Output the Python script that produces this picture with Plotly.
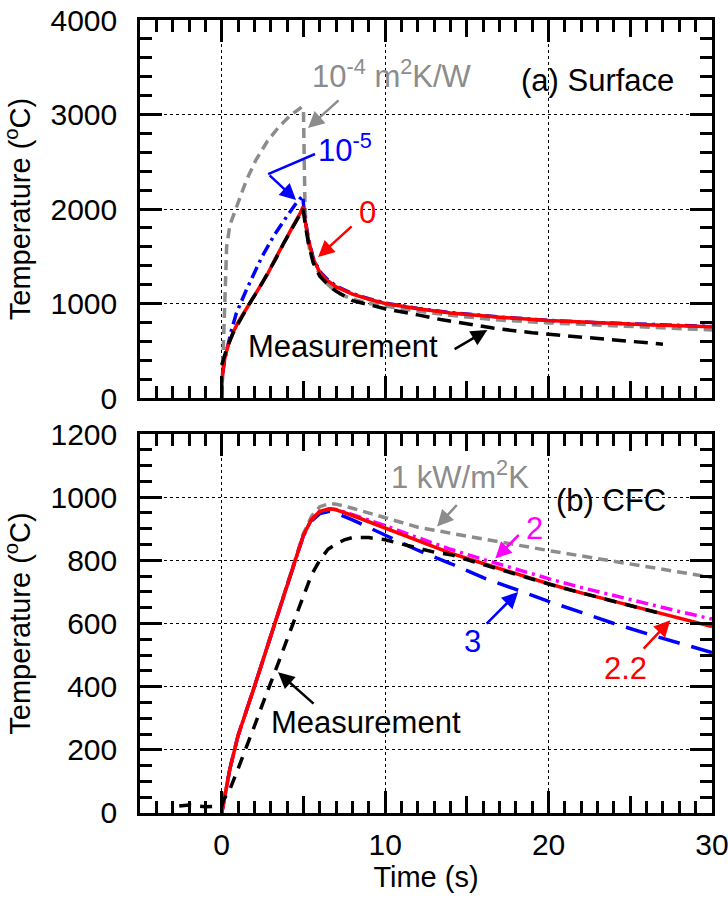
import plotly.graph_objects as go

# ---------------- data: (a) Surface ----------------
t_red_a = [0, 0.02, 0.1, 0.2, 0.4, 0.7, 1.0, 1.3, 1.7, 2.3, 2.8, 3.3, 3.8, 4.3, 4.8, 4.98, 5.1, 5.3, 5.6, 6.0, 6.5, 7.0, 8, 9, 10, 12, 14, 17, 20, 23, 26, 30]
T_red_a = [0, 170, 330, 430, 565, 695, 800, 885, 1000, 1165, 1310, 1480, 1650, 1800, 1955, 2025, 1880, 1680, 1470, 1330, 1240, 1175, 1100, 1045, 1000, 945, 900, 855, 820, 795, 775, 755]

t_meas_a = [0, 0.3, 0.7, 1.2, 1.7, 2.3, 2.8, 3.3, 3.8, 4.3, 4.8, 4.98, 5.1, 5.3, 5.6, 6.0, 6.5, 7.0, 8, 10, 12, 13.4, 15, 16.6, 19, 21, 23, 25, 27]
T_meas_a = [350, 520, 690, 850, 1000, 1165, 1310, 1470, 1640, 1790, 1940, 2000, 1850, 1640, 1430, 1290, 1200, 1130, 1030, 945, 880, 830, 785, 740, 690, 660, 630, 600, 570]

t_gray_a = [0, 0.1, 0.2, 0.3, 0.5, 0.9, 1.5, 2.1, 2.8, 3.5, 4.2, 4.9, 5.0, 5.05, 5.1, 5.2, 5.4, 5.7, 6.2, 7, 8, 9, 10, 12, 14, 17, 20, 24, 27, 30]
T_gray_a = [0, 500, 1100, 1600, 1830, 2020, 2300, 2520, 2720, 2870, 2990, 3080, 3060, 2500, 2000, 1750, 1550, 1400, 1250, 1120, 1045, 1000, 972, 920, 875, 825, 795, 762, 740, 720]

t_blue_a = [0, 0.05, 0.2, 0.6, 0.9, 1.5, 2.45, 3.2, 3.98, 4.59, 4.95, 5.1, 5.3, 5.6, 6.0, 6.5, 7, 8, 9, 10, 12, 14, 17, 20, 23, 26, 30]
T_blue_a = [0, 250, 420, 720, 900, 1140, 1490, 1720, 1920, 2070, 2140, 1900, 1690, 1480, 1340, 1250, 1185, 1105, 1050, 1005, 948, 903, 857, 822, 797, 777, 757]

# ---------------- data: (b) CFC ----------------
t_b = [0, 0.5, 1, 1.5, 2, 3, 4, 4.6, 5, 5.5, 6, 6.6, 7, 8, 10, 12, 14, 16, 18, 20, 22, 24, 26, 28, 30]
T_red_b = [0, 140, 245, 320, 400, 560, 720, 820, 880, 930, 955, 963, 960, 942, 902, 862, 823, 790, 757, 726, 697, 670, 643, 617, 590]
T_mag_b = [0, 140, 245, 320, 400, 560, 720, 820, 880, 930, 955, 963, 961, 945, 910, 872, 835, 803, 772, 742, 714, 688, 662, 638, 614]
T_blue_b = [0, 140, 245, 320, 400, 560, 720, 820, 878, 925, 948, 955, 950, 928, 880, 832, 790, 745, 708, 670, 635, 600, 568, 538, 508]
T_gray_b = [0, 140, 245, 320, 400, 560, 720, 822, 885, 940, 970, 980, 978, 965, 935, 905, 886, 867, 849, 831, 814, 797, 780, 763, 746]

t_meas_b = [-2.6, -2.0, -1.0, -0.5, 0, 0.1, 0.5, 1, 1.5, 2, 2.5, 3, 3.5, 4, 4.5, 5, 5.5, 6, 6.5, 7, 7.5, 8, 9, 10, 11, 12, 13, 14, 16, 18, 20, 22, 24, 26, 27]
T_meas_b = [22, 25, 20, 20, 22, 40, 75, 140, 205, 275, 345, 410, 480, 550, 620, 690, 755, 800, 835, 852, 865, 872, 872, 865, 852, 838, 826, 818, 787, 755, 725, 697, 670, 645, 630]

x_ticks = [0, 10, 20, 30]
x_mid_ticks = [5, 15, 25]
y_ticks_a = [0, 1000, 2000, 3000, 4000]
y_ticks_b = [0, 200, 400, 600, 800, 1000, 1200]

RED = "#ff0000"
BLUE = "#0000ff"
GRAY = "#8c8c8c"
MAG = "#ff00ff"
BLACK = "#000000"
LW = 3.5

fig = go.Figure()

def add_line(x, y, color, dash, xa, ya, name):
    fig.add_trace(go.Scatter(x=x, y=y, mode="lines", name=name, xaxis=xa, yaxis=ya,
                             line=dict(color=color, width=LW, dash=dash), showlegend=False,
                             hoverinfo="skip"))

# panel (a)
add_line(t_gray_a, T_gray_a, GRAY, "10px,6px", "x", "y", "1e-4 m2K/W")
add_line(t_blue_a, T_blue_a, BLUE, "12px,5px,3px,5px", "x", "y", "1e-5")
add_line(t_red_a, T_red_a, RED, "solid", "x", "y", "0")
add_line(t_meas_a, T_meas_a, BLACK, "14px,8px", "x", "y", "Measurement")
# panel (b)
add_line(t_b, T_gray_b, GRAY, "10px,6px", "x2", "y2", "1 kW/m2K")
add_line(t_b, T_blue_b, BLUE, "22px,12px", "x2", "y2", "3")
add_line(t_b, T_mag_b, MAG, "12px,5px,3px,5px", "x2", "y2", "2")
add_line(t_b, T_red_b, RED, "solid", "x2", "y2", "2.2")
add_line(t_meas_b, T_meas_b, BLACK, "12px,9px", "x2", "y2", "Measurement")
# empty traces to host medium-tick overlay axes
fig.add_trace(go.Scatter(x=[], y=[], xaxis="x3", yaxis="y", showlegend=False))
fig.add_trace(go.Scatter(x=[], y=[], xaxis="x4", yaxis="y2", showlegend=False))

TICKFONT = dict(family="Liberation Sans, Arial", size=30, color="black")
TITLEFONT = dict(family="Liberation Sans, Arial", size=29, color="black")
ANNFONT = "Liberation Sans, Arial"

def xaxis_cfg(anchor, labels):
    return dict(anchor=anchor, range=[-5, 30], domain=[0, 1], tickmode="array", tickvals=x_ticks,
                automargin=False,
                ticks="inside", ticklen=22, tickwidth=2.5, tickcolor="black",
                showline=True, linecolor="black", linewidth=2.5, mirror="ticks",
                showgrid=True, gridcolor="black", gridwidth=1, griddash="dot",
                zeroline=False, showticklabels=labels, tickfont=TICKFONT,
                ticklabelstandoff=3, ticklabeloverflow="allow",
                minor=dict(dtick=1, ticks="inside", ticklen=12, tickwidth=2.5, tickcolor="black", showgrid=False))

def mid_cfg(over, anchor):
    return dict(overlaying=over, anchor=anchor, range=[-5, 30], domain=[0, 1], tickmode="array",
                automargin=False,
                tickvals=x_mid_ticks, ticks="inside", ticklen=17, tickwidth=2.5, tickcolor="black",
                showline=False, mirror="ticks", showgrid=False, zeroline=False, showticklabels=False)

def yaxis_cfg(anchor, rng, vals, minor, dom):
    return dict(anchor=anchor, range=rng, domain=dom, tickmode="array", tickvals=vals,
                automargin=False,
                ticks="inside", ticklen=22, tickwidth=2.5, tickcolor="black",
                showline=True, linecolor="black", linewidth=2.5, mirror="ticks",
                showgrid=True, gridcolor="black", gridwidth=1, griddash="dot",
                zeroline=False, tickfont=TICKFONT, ticklabelstandoff=14, ticklabeloverflow="allow",
                title=dict(text="Temperature (<sup>o</sup>C)", font=TITLEFONT, standoff=14),
                minor=dict(dtick=minor, ticks="inside", ticklen=12, tickwidth=2.5, tickcolor="black", showgrid=False))

fig.update_layout(
    width=728, height=905,
    margin=dict(l=140, r=16, t=20, b=92, autoexpand=False),
    paper_bgcolor="white", plot_bgcolor="white",
    xaxis=xaxis_cfg("y", False),
    xaxis2=dict(xaxis_cfg("y2", True), title=dict(text="Time (s)", font=TITLEFONT, standoff=4)),
    xaxis3=mid_cfg("x", "y"),
    xaxis4=mid_cfg("x2", "y2"),
    yaxis=yaxis_cfg("x", [0, 4000], y_ticks_a, 200, [0.5233, 1]),
    yaxis2=yaxis_cfg("x2", [0, 1200], y_ticks_b, 50, [0, 0.4779]),
)

def label(text, x, y, color, xr="x", yr="y"):
    fig.add_annotation(text=text, x=x, y=y, xref=xr, yref=yr, showarrow=False,
                       font=dict(family=ANNFONT, size=31, color=color))

def arrow(x, y, ax, ay, color, xr="x", yr="y"):
    fig.add_annotation(text="", x=x, y=y, ax=ax, ay=ay, xref=xr, yref=yr, axref=xr, ayref=yr,
                       showarrow=True, arrowhead=2, arrowsize=1.3, arrowwidth=2.5, arrowcolor=color)

# panel (a) annotations
label("10<sup>-4</sup> m<sup>2</sup>K/W", 10.4, 3430, GRAY)
label("(a) Surface", 23.0, 3355, BLACK)
arrow(5.28, 2857, 7.24, 3164, GRAY)
label("10<sup>-5</sup>", 7.55, 2650, BLUE)
fig.add_shape(type="line", x0=5.71, y0=2582, x1=2.84, y1=2370, xref="x", yref="y",
              line=dict(color=BLUE, width=2.5))
arrow(4.55, 2095, 2.84, 2370, BLUE)
label("0", 8.9, 1960, RED)
arrow(5.9, 1492, 8.04, 1831, RED)
label("Measurement", 7.43, 545, BLACK)
arrow(16.25, 720, 14.16, 508, BLACK)

# panel (b) annotations
label("1 kW/m<sup>2</sup>K", 14.6, 1070, GRAY, "x2", "y2")
arrow(13.18, 907, 14.47, 980, GRAY, "x2", "y2")
label("(b) CFC", 23.85, 989, BLACK, "x2", "y2")
label("2", 19.13, 901, MAG, "x2", "y2")
arrow(16.74, 806, 18.27, 885, MAG, "x2", "y2")
label("3", 15.33, 544, BLUE, "x2", "y2")
arrow(18.14, 700, 16.12, 595, BLUE, "x2", "y2")
label("2.2", 24.7, 459, RED, "x2", "y2")
arrow(27.45, 610, 25.73, 516, RED, "x2", "y2")
label("Measurement", 8.84, 288, BLACK, "x2", "y2")
arrow(3.45, 446, 5.71, 342, BLACK, "x2", "y2")

fig.write_html("out.html")
